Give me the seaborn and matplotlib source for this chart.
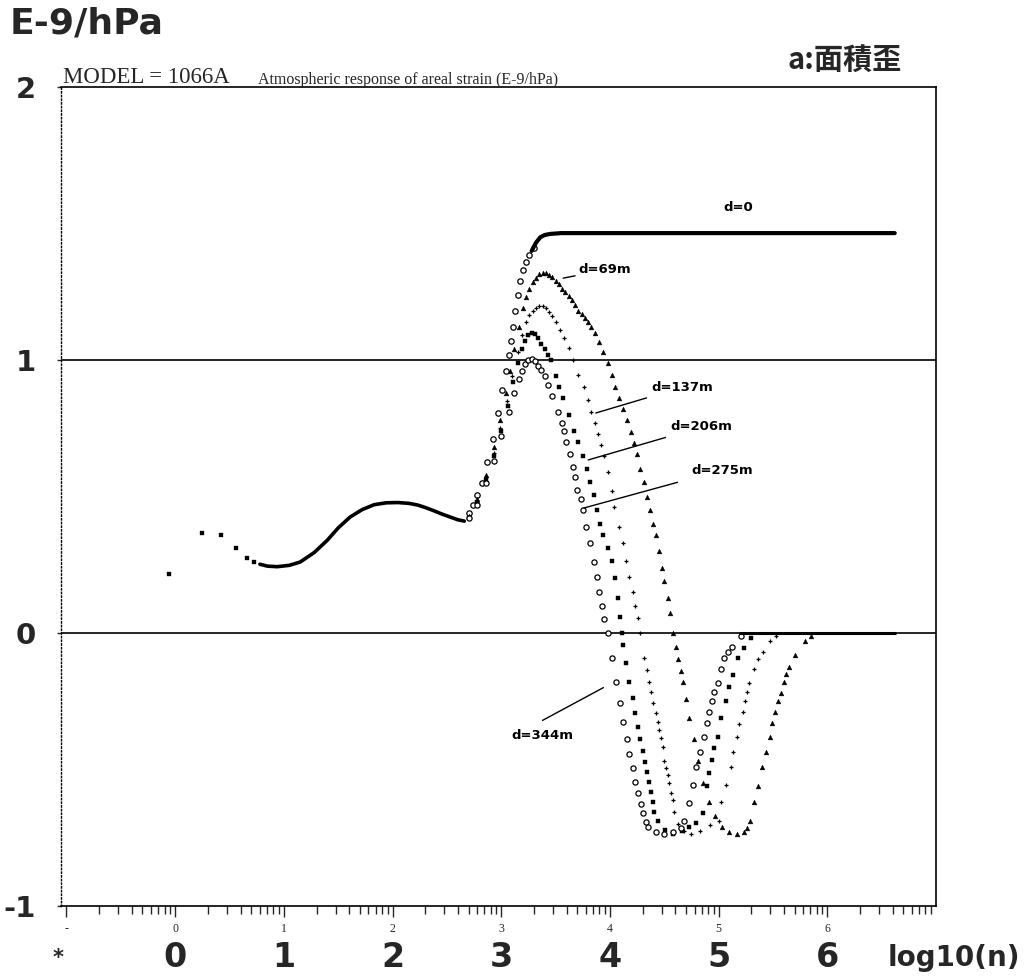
import numpy as np
import matplotlib
matplotlib.use('Agg')
import matplotlib.pyplot as plt
import matplotlib.transforms as mtransforms
import seaborn as sns

# ---- data (x = log10(n), y = E-9/hPa) ----
# first isolated points (all depths coincide)
x_low_pts = [-0.06, 0.25, 0.42, 0.56, 0.66, 0.73]
y_low_pts = [0.215, 0.365, 0.36, 0.31, 0.275, 0.26]

# dense common band
x_band = [0.78, 0.85, 0.94, 1.05, 1.15, 1.28, 1.40, 1.50, 1.61, 1.72, 1.83, 1.94,
          2.05, 2.15, 2.23, 2.30, 2.38, 2.46, 2.53, 2.60, 2.66]
y_band = [0.252, 0.245, 0.243, 0.248, 0.26, 0.295, 0.34, 0.385, 0.425, 0.452, 0.47,
          0.477, 0.478, 0.475, 0.469, 0.46, 0.448, 0.435, 0.425, 0.415, 0.41]

# d=0
x_d0 = [2.70, 2.74, 2.78, 2.82, 2.87, 2.92, 2.97, 3.01, 3.04, 3.07, 3.09, 3.11, 3.13,
        3.15, 3.17, 3.20, 3.23, 3.26, 3.30]
y_d0 = [0.44, 0.47, 0.505, 0.55, 0.625, 0.71, 0.805, 0.89, 0.96, 1.02, 1.07, 1.12, 1.18,
        1.24, 1.29, 1.33, 1.36, 1.385, 1.41]
x_d0_flat = [3.28, 3.32, 3.36, 3.40, 3.45, 3.55, 3.70, 4.00, 5.00, 6.00, 6.62]
y_d0_flat = [1.40, 1.43, 1.45, 1.458, 1.462, 1.465, 1.465, 1.465, 1.465, 1.465, 1.465]

# d=69m
x_69 = [2.70, 2.78, 2.86, 2.93, 2.99, 3.04, 3.08, 3.12, 3.16, 3.20, 3.23, 3.26, 3.29,
        3.32, 3.35, 3.38, 3.41, 3.44, 3.47, 3.50, 3.53, 3.56, 3.59, 3.62, 3.65, 3.68,
        3.71, 3.74, 3.77, 3.80, 3.83, 3.86, 3.90, 3.94, 3.98, 4.02, 4.05, 4.08, 4.12,
        4.16, 4.19, 4.22, 4.25, 4.28, 4.31, 4.34, 4.37, 4.40, 4.42, 4.45, 4.48, 4.50,
        4.53, 4.55, 4.58, 4.61, 4.63, 4.65, 4.67, 4.70, 4.73, 4.77, 4.81, 4.86, 4.91,
        4.97, 5.03, 5.10, 5.17, 5.23, 5.26, 5.29, 5.33, 5.36, 5.40, 5.44, 5.47, 5.49,
        5.52, 5.55, 5.57, 5.60, 5.62, 5.65, 5.70, 5.79, 5.85]
y_69 = [0.43, 0.49, 0.58, 0.68, 0.78, 0.88, 0.96, 1.04, 1.12, 1.19, 1.23, 1.26, 1.285,
        1.30, 1.315, 1.32, 1.318, 1.312, 1.303, 1.29, 1.277, 1.262, 1.25, 1.235, 1.22, 1.20,
        1.18, 1.17, 1.155, 1.14, 1.12, 1.10, 1.065, 1.03, 0.99, 0.945, 0.90, 0.86, 0.82,
        0.78, 0.735, 0.695, 0.655, 0.60, 0.555, 0.50, 0.45, 0.40, 0.36, 0.30, 0.24, 0.19,
        0.13, 0.075, 0.0, -0.05, -0.095, -0.14, -0.18, -0.24, -0.31, -0.39, -0.47, -0.55, -0.62,
        -0.67, -0.71, -0.73, -0.735, -0.73, -0.715, -0.69, -0.62, -0.56, -0.49, -0.435, -0.38, -0.33,
        -0.29, -0.25, -0.22, -0.18, -0.15, -0.125, -0.08, -0.03, -0.01]

# d=137m
x_137 = [2.70, 2.78, 2.86, 2.93, 2.99, 3.05, 3.10, 3.15, 3.19, 3.23, 3.26, 3.29, 3.32,
         3.35, 3.38, 3.41, 3.44, 3.47, 3.50, 3.54, 3.58, 3.62, 3.66, 3.71, 3.76, 3.80,
         3.83, 3.86, 3.89, 3.92, 3.95, 3.98, 4.02, 4.04, 4.08, 4.12, 4.15, 4.18, 4.21,
         4.23, 4.26, 4.28, 4.31, 4.34, 4.36, 4.38, 4.40, 4.42, 4.44, 4.45, 4.47, 4.49,
         4.50, 4.52, 4.53, 4.54, 4.56, 4.58, 4.59, 4.63, 4.68, 4.75, 4.83, 4.92, 5.00,
         5.02, 5.07, 5.11, 5.13, 5.17, 5.19, 5.22, 5.24, 5.26, 5.28, 5.33, 5.36, 5.41,
         5.47, 5.53]
y_137 = [0.42, 0.48, 0.57, 0.66, 0.75, 0.85, 0.94, 1.03, 1.09, 1.14, 1.165, 1.18, 1.19,
         1.197, 1.197, 1.19, 1.175, 1.16, 1.14, 1.11, 1.08, 1.045, 1.00, 0.945, 0.90, 0.855,
         0.81, 0.77, 0.73, 0.69, 0.65, 0.59, 0.52, 0.46, 0.39, 0.33, 0.265, 0.205, 0.15,
         0.10, 0.055, 0.0, -0.09, -0.135, -0.18, -0.216, -0.256, -0.293, -0.326, -0.355, -0.385, -0.418,
         -0.47, -0.495, -0.52, -0.55, -0.586, -0.61, -0.655, -0.70, -0.725, -0.735, -0.725, -0.705, -0.69,
         -0.62, -0.557, -0.49, -0.436, -0.38, -0.333, -0.29, -0.25, -0.216, -0.183, -0.132, -0.095, -0.07,
         -0.03, -0.01]

# d=206m
x_206 = [2.70, 2.78, 2.86, 2.93, 3.00, 3.06, 3.11, 3.15, 3.19, 3.22, 3.25, 3.28, 3.31,
         3.34, 3.37, 3.40, 3.43, 3.46, 3.50, 3.53, 3.57, 3.62, 3.67, 3.71, 3.75, 3.79,
         3.82, 3.85, 3.88, 3.91, 3.94, 3.98, 4.02, 4.05, 4.07, 4.09, 4.11, 4.12, 4.15,
         4.18, 4.21, 4.23, 4.26, 4.28, 4.30, 4.32, 4.34, 4.36, 4.38, 4.40, 4.41, 4.44,
         4.51, 4.58, 4.66, 4.73, 4.79, 4.86, 4.89, 4.91, 4.94, 4.96, 4.99, 5.02, 5.07,
         5.10, 5.13, 5.18, 5.23, 5.30]
y_206 = [0.42, 0.48, 0.56, 0.65, 0.74, 0.83, 0.92, 0.99, 1.04, 1.07, 1.09, 1.10, 1.095,
         1.08, 1.06, 1.04, 1.02, 1.00, 0.94, 0.90, 0.86, 0.80, 0.74, 0.70, 0.65, 0.60,
         0.555, 0.505, 0.45, 0.40, 0.36, 0.31, 0.265, 0.20, 0.13, 0.06, 0.0, -0.044, -0.11,
         -0.18, -0.238, -0.293, -0.344, -0.388, -0.432, -0.473, -0.51, -0.546, -0.582, -0.62, -0.656, -0.69,
         -0.72, -0.735, -0.725, -0.71, -0.695, -0.66, -0.56, -0.513, -0.465, -0.42, -0.38, -0.31, -0.25,
         -0.198, -0.154, -0.092, -0.055, -0.018]

# d=275m
x_275 = [2.70, 2.78, 2.86, 2.93, 3.00, 3.07, 3.12, 3.16, 3.19, 3.22, 3.25, 3.28, 3.31,
         3.34, 3.37, 3.40, 3.43, 3.47, 3.52, 3.56, 3.58, 3.60, 3.63, 3.66, 3.68, 3.70,
         3.73, 3.75, 3.78, 3.82, 3.85, 3.88, 3.90, 3.93, 3.95, 3.98, 4.02, 4.06, 4.09,
         4.12, 4.16, 4.18, 4.21, 4.23, 4.26, 4.29, 4.30, 4.33, 4.35, 4.42, 4.50, 4.58,
         4.65, 4.68, 4.73, 4.76, 4.79, 4.83, 4.87, 4.89, 4.91, 4.94, 4.96, 4.99, 5.02,
         5.05, 5.09, 5.12, 5.21]
y_275 = [0.42, 0.47, 0.55, 0.63, 0.72, 0.81, 0.88, 0.93, 0.96, 0.985, 1.00, 1.005, 0.995,
         0.98, 0.965, 0.94, 0.91, 0.87, 0.81, 0.77, 0.74, 0.70, 0.655, 0.61, 0.57, 0.525,
         0.49, 0.45, 0.39, 0.33, 0.26, 0.205, 0.15, 0.10, 0.05, 0.0, -0.092, -0.18, -0.256,
         -0.326, -0.388, -0.443, -0.495, -0.546, -0.586, -0.626, -0.659, -0.692, -0.71, -0.73, -0.735, -0.73,
         -0.715, -0.69, -0.623, -0.557, -0.491, -0.436, -0.381, -0.33, -0.289, -0.249, -0.216, -0.183, -0.132,
         -0.092, -0.07, -0.051, -0.01]

# curves lying on zero after recovering
x_tail = [5.20, 6.62]
y_tail = [0.0, 0.0]

x_major = [-1, 0, 1, 2, 3, 4, 5, 6]
x_small_labels = ['-', '0', '1', '2', '3', '4', '5', '6']
x_big_labels = ['*', '0', '1', '2', '3', '4', '5', '6', 'log10(n)']
y_ticks = [-1, 0, 1, 2]
y_labels = ['-1', '0', '1', '2']

# ---- figure ----
sns.set_style('ticks')
plt.rcParams['font.family'] = ['DejaVu Sans']

fig = plt.figure(figsize=(10.25, 9.76), dpi=100)
ax = fig.add_axes([0.0595, 0.0717, 0.8537, 0.8391])

ax.axhline(1, color='black', lw=1.2, zorder=1)
ax.axhline(0, color='black', lw=1.2, zorder=1)

sns.scatterplot(x=x_low_pts, y=y_low_pts, marker='s', s=9, color='black',
                edgecolor='black', ax=ax)
sns.lineplot(x=x_band, y=y_band, color='black', lw=2.6, sort=False,
             estimator=None, ax=ax)
sns.lineplot(x=x_d0_flat, y=y_d0_flat, color='black', lw=3.0, sort=False,
             estimator=None, ax=ax)
sns.lineplot(x=x_tail, y=y_tail, color='black', lw=2.2, sort=False,
             estimator=None, ax=ax)

sns.scatterplot(x=x_d0, y=y_d0, marker='o', s=15, facecolor='white',
                edgecolor='black', linewidth=0.9, ax=ax)
sns.scatterplot(x=x_69, y=y_69, marker='^', s=12, color='black',
                edgecolor='black', linewidth=0.3, ax=ax)
sns.scatterplot(x=x_137, y=y_137, marker='+', s=11, color='black',
                edgecolor='black', linewidth=0.9, ax=ax)
sns.scatterplot(x=x_206, y=y_206, marker='s', s=7, color='black',
                edgecolor='black', linewidth=0.3, ax=ax)
sns.scatterplot(x=x_275, y=y_275, marker='o', s=14, facecolor='white',
                edgecolor='black', linewidth=0.9, ax=ax)

ax.set_xlim(-1.05, 7.0)
ax.set_ylim(-1, 2)

# axes frame
for side in ['top', 'right', 'bottom']:
    ax.spines[side].set_visible(True)
    ax.spines[side].set_linewidth(1.2)
    ax.spines[side].set_color('black')
ax.spines['left'].set_linestyle(':')
ax.spines['left'].set_linewidth(1.0)
ax.spines['left'].set_color('black')

# x ticks: log-decade minor ticks and small serif labels
ax.set_xticks(x_major)
ax.set_xticklabels(x_small_labels, fontfamily='Liberation Serif', fontsize=8.5)
minor = [d + np.log10(k) for d in range(-1, 7) for k in range(2, 10) if d + np.log10(k) < 7.0]
ax.set_xticks(minor, minor=True)
ax.tick_params(axis='x', which='major', direction='out', length=8, width=1.0, pad=4)
ax.tick_params(axis='x', which='minor', direction='out', length=6, width=1.0)

ax.set_yticks(y_ticks)
ax.set_yticklabels(y_labels, fontsize=21, fontweight='bold')
ax.tick_params(axis='y', direction='out', length=3, width=1.0, pad=15)
ax.set_xlabel('')
ax.set_ylabel('')

# big bold x labels below the axis
trans = mtransforms.blended_transform_factory(ax.transData, fig.transFigure)
x_big_pos = [-1.08, 0, 1, 2, 3, 4, 5, 6, 7.16]
for xp, lab in zip(x_big_pos, x_big_labels):
    if lab == '*':
        size = 15
    elif lab == 'log10(n)':
        size = 20
    else:
        size = 24
    ax.text(xp, 0.0185, lab, transform=trans, ha='center', va='center',
            fontsize=size, fontweight='bold', clip_on=False)

# curve labels with leader lines
lab_kw = dict(fontsize=9.5, fontweight='bold', color='black')
ax.text(5.18, 1.557, 'd=0', ha='center', va='center', **lab_kw)
ax.annotate('d=69m', xy=(3.57, 1.30), xytext=(3.71, 1.33), va='center', ha='left',
            arrowprops=dict(arrowstyle='-', color='black', lw=1.0, shrinkA=0, shrinkB=0), **lab_kw)
ax.annotate('d=137m', xy=(3.87, 0.806), xytext=(4.38, 0.90), va='center', ha='left',
            arrowprops=dict(arrowstyle='-', color='black', lw=1.0, shrinkA=2, shrinkB=0), **lab_kw)
ax.annotate('d=206m', xy=(3.80, 0.634), xytext=(4.56, 0.755), va='center', ha='left',
            arrowprops=dict(arrowstyle='-', color='black', lw=1.0, shrinkA=2, shrinkB=0), **lab_kw)
ax.annotate('d=275m', xy=(3.76, 0.458), xytext=(4.75, 0.597), va='center', ha='left',
            arrowprops=dict(arrowstyle='-', color='black', lw=1.0, shrinkA=8, shrinkB=0), **lab_kw)
ax.annotate('', xy=(3.94, -0.20), xytext=(3.38, -0.32),
            arrowprops=dict(arrowstyle='-', color='black', lw=1.0, shrinkA=0, shrinkB=0))
ax.text(3.38, -0.374, 'd=344m', ha='center', va='center', **lab_kw)

# header texts
fig.text(0.0098, 0.966, 'E-9/hPa', fontsize=26, fontweight='bold', va='baseline')
fig.text(0.824, 0.929, 'a:面積歪', fontsize=21, fontweight='bold', ha='center',
         va='baseline', family=['Noto Sans CJK JP', 'DejaVu Sans'])
fig.text(0.0615, 0.915, 'MODEL = 1066A', fontsize=16.5, fontfamily='Liberation Serif',
         va='baseline')
fig.text(0.2517, 0.914, 'Atmospheric response of areal strain (E-9/hPa)', fontsize=11.5,
         fontfamily='Liberation Serif', va='baseline')

fig.savefig('out.png', dpi=100, facecolor='white')
